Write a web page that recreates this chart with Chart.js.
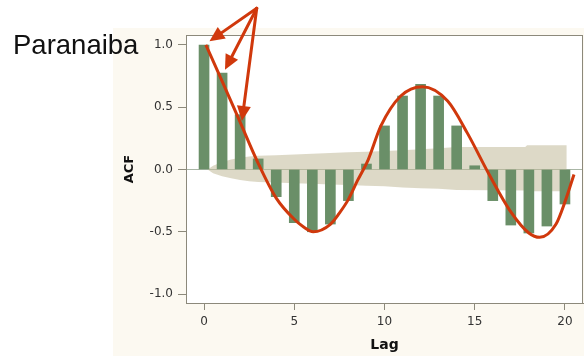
<!DOCTYPE html>
<html>
<head>
<meta charset="utf-8">
<script src="https://cdn.jsdelivr.net/npm/chart.js@4/dist/chart.umd.min.js"></script>
<style>
  html, body { margin: 0; padding: 0; background: #fff; }
  #wrap { position: relative; width: 584px; height: 356px; overflow: hidden; }
  #acfChart { position: absolute; left: 0; top: 0; }
  #station {
    position: absolute; left: 13px; top: 31px;
    font-family: "Liberation Sans", Arial, sans-serif;
    font-size: 27.5px; line-height: 1; color: #111;
  }
</style>
</head>
<body>
<div id="wrap">
  <canvas id="acfChart" width="584" height="356"></canvas>
  <div id="station">Paranaiba</div>
</div>
<script>
// ACF bars, one per lag
const lags = [0, 1, 2, 3, 4, 5, 6, 7, 8, 9, 10, 11, 12, 13, 14, 15, 16, 17, 18, 19, 20];
const acf  = [1.0, 0.775, 0.44, 0.085, -0.218, -0.427, -0.50, -0.438, -0.25, 0.044, 0.35,
              0.59, 0.684, 0.59, 0.35, 0.03, -0.25, -0.446, -0.51, -0.454, -0.277];

// confidence band (upper / lower edge)
const bandLags  = [0.2, 0.5, 1, 1.5, 2, 2.5, 3, 4, 5, 6, 7, 8, 9, 10, 11, 12, 13, 14, 17.8, 17.9, 20.1];
const bandUpper = [0, 0.03, 0.06, 0.08, 0.095, 0.105, 0.11, 0.115, 0.12, 0.127, 0.133, 0.138,
                   0.143, 0.148, 0.155, 0.162, 0.17, 0.18, 0.18, 0.195, 0.195];
const bandLower = [0, -0.03, -0.055, -0.07, -0.085, -0.095, -0.1, -0.105, -0.11, -0.115, -0.12,
                   -0.125, -0.13, -0.135, -0.145, -0.15, -0.155, -0.165, -0.168, -0.174, -0.174];

// hand-drawn red wave over the bars
const curveLags = [0.1, 1, 2, 3, 4, 5, 5.5, 6.05, 7, 7.5, 8, 8.5, 9.1, 9.8, 10.9, 12.1,
                   13.5, 14.6, 15.8, 17, 18, 18.6, 19.5, 20, 20.5];
const curveAcf  = [1.0, 0.71, 0.38, 0.05, -0.23, -0.40, -0.46, -0.50, -0.44, -0.35, -0.24, -0.09,
                   0.08, 0.35, 0.59, 0.665, 0.55, 0.29, -0.04, -0.34, -0.51, -0.545, -0.44, -0.26, -0.04];

// arrows: one start point, three tips (lag, acf)
const arrowFrom    = [2.92, 1.295];
const arrowTipLags = [0.3, 1.16, 2.1];
const arrowTipAcf  = [1.03, 0.80, 0.39];

const xTicks = [0, 5, 10, 15, 20];
const yTicks = [-1.0, -0.5, 0.0, 0.5, 1.0];

const RED    = '#d0380c';
const GREEN  = '#6a8f68';
const AXIS   = '#8c897b';
const CREAM  = '#fcf9f1';
const FONT   = 'DejaVu Sans';

const pts = (xs, ys) => xs.map((x, i) => ({ x, y: ys[i] }));

/* background: cream panel + white plot area + frame */
const panelBg = {
  id: 'panelBg',
  beforeDraw(chart) {
    const { ctx, chartArea: a, width, height } = chart;
    ctx.save();
    ctx.fillStyle = CREAM;
    ctx.fillRect(113, 28, width - 113, height - 28);
    ctx.fillStyle = '#fff';
    ctx.fillRect(a.left, a.top, a.right - a.left, a.bottom - a.top);
    ctx.restore();
  },
  afterDraw(chart) {
    const { ctx, chartArea: a } = chart;
    ctx.save();
    ctx.strokeStyle = AXIS;
    ctx.lineWidth = 1;
    ctx.strokeRect(a.left + 0.5, a.top + 0.5, a.right - a.left - 1, a.bottom - a.top);
    ctx.restore();
  }
};

/* red arrows, placed through the scales */
const arrows = {
  id: 'arrows',
  afterDraw(chart) {
    const { ctx, scales: { x, y } } = chart;
    const x0 = x.getPixelForValue(arrowFrom[0]);
    const y0 = y.getPixelForValue(arrowFrom[1]);
    ctx.save();
    ctx.strokeStyle = RED;
    ctx.fillStyle = RED;
    ctx.lineWidth = 3;
    ctx.lineCap = 'round';
    arrowTipLags.forEach((lag, i) => {
      const x1 = x.getPixelForValue(lag);
      const y1 = y.getPixelForValue(arrowTipAcf[i]);
      const ang = Math.atan2(y1 - y0, x1 - x0);
      const head = 15, half = 7;
      const bx = x1 - head * Math.cos(ang), by = y1 - head * Math.sin(ang);
      ctx.beginPath();
      ctx.moveTo(x0, y0);
      ctx.lineTo(bx, by);
      ctx.stroke();
      ctx.beginPath();
      ctx.moveTo(x1, y1);
      ctx.lineTo(bx + half * Math.sin(ang), by - half * Math.cos(ang));
      ctx.lineTo(bx - half * Math.sin(ang), by + half * Math.cos(ang));
      ctx.closePath();
      ctx.fill();
    });
    ctx.restore();
  }
};

new Chart(document.getElementById('acfChart'), {
  type: 'bar',
  data: {
    datasets: [
      {
        type: 'line', label: 'wave', data: pts(curveLags, curveAcf),
        borderColor: RED, borderWidth: 3, pointRadius: 0,
        cubicInterpolationMode: 'monotone', fill: false, order: 0, clip: false
      },
      {
        type: 'bar', label: 'ACF', data: pts(lags, acf),
        backgroundColor: GREEN, barThickness: 10, order: 1
      },
      {
        type: 'line', label: 'upper', data: pts(bandLags, bandUpper),
        borderWidth: 0, pointRadius: 0, fill: '+1',
        backgroundColor: 'rgba(193,186,153,0.55)', order: 2
      },
      {
        type: 'line', label: 'lower', data: pts(bandLags, bandLower),
        borderWidth: 0, pointRadius: 0, fill: false, order: 3
      }
    ]
  },
  options: {
    responsive: false,
    animation: false,
    devicePixelRatio: 1,
    layout: { padding: { left: 113, top: 35, right: 1, bottom: 0 } },
    plugins: { legend: { display: false }, tooltip: { enabled: false } },
    scales: {
      x: {
        type: 'linear', min: -1, max: 21, offset: false,
        afterFit: s => { s.height = 53; },
        afterBuildTicks: s => { s.ticks = xTicks.map(v => ({ value: v })); },
        ticks: { font: { family: FONT, size: 12 }, color: '#333', padding: 5 },
        grid: { offset: false, drawOnChartArea: false, tickLength: 7, tickColor: AXIS },
        border: { color: AXIS },
        title: {
          display: true, text: 'Lag', color: '#111',
          font: { family: FONT, size: 14, weight: 'bold' },
          padding: { top: 0, bottom: 2 }
        }
      },
      y: {
        type: 'linear', min: -1.072, max: 1.08,
        afterFit: s => { s.width = 73; },
        afterBuildTicks: s => { s.ticks = yTicks.map(v => ({ value: v })); },
        ticks: {
          font: { family: FONT, size: 12 }, color: '#333', padding: 5,
          callback: v => v.toFixed(1)
        },
        grid: {
          color: c => (c.tick && Math.abs(c.tick.value) < 1e-9) ? '#a9b6a6' : 'rgba(0,0,0,0)',
          tickLength: 8, tickColor: AXIS
        },
        border: { color: AXIS },
        title: {
          display: true, text: 'ACF', color: '#111',
          font: { family: FONT, size: 13, weight: 'bold' },
          padding: { top: 9, bottom: 0 }
        }
      }
    }
  },
  plugins: [panelBg, arrows]
});
</script>
</body>
</html>
